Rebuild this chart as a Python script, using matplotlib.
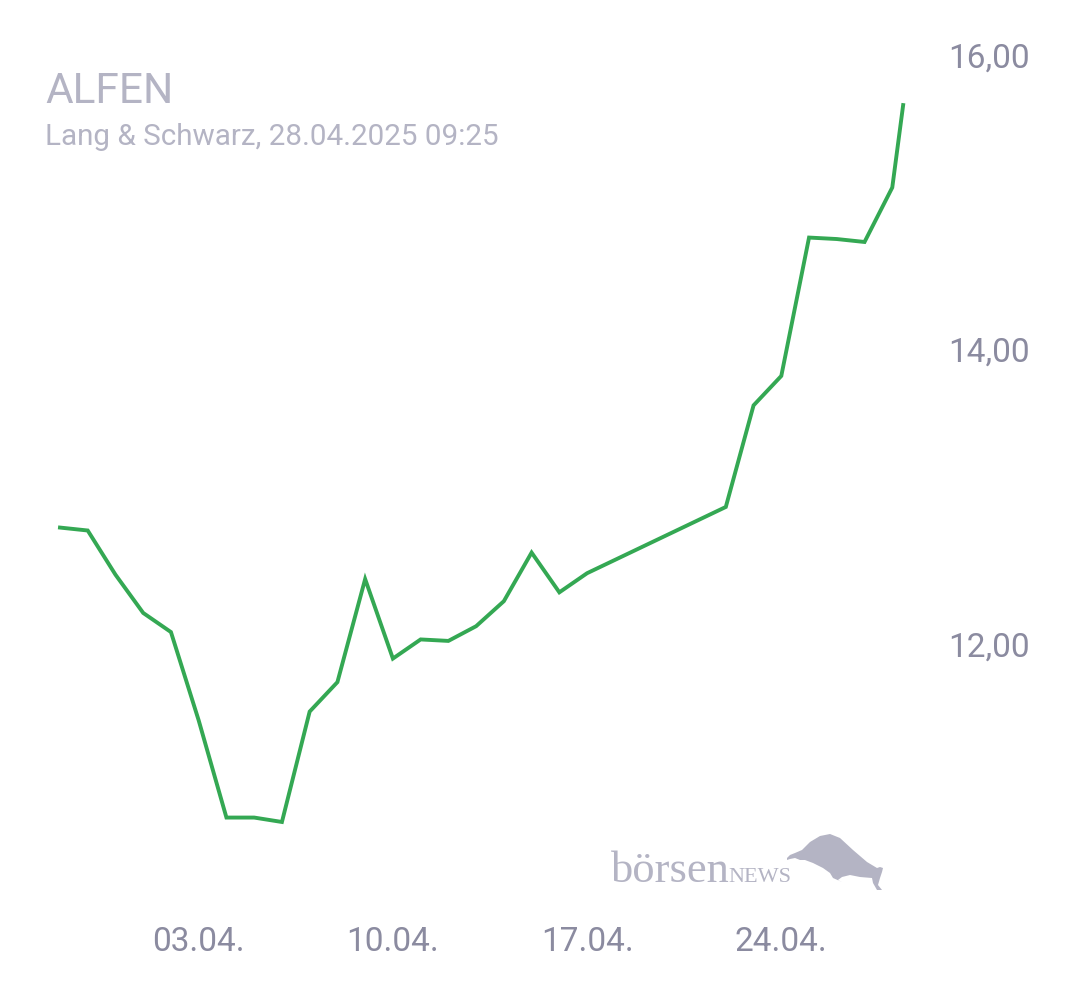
import numpy as np
import matplotlib
matplotlib.use("Agg")
import matplotlib.pyplot as plt
from matplotlib.patches import Polygon

# Day of April (negative = end of March), last point is 28.04. 09:25
days = [-2, -1, 0, 1, 2, 3, 4, 5, 6, 7, 8, 9, 10, 11, 12, 13, 14, 15, 16, 17,
        22, 23, 24, 25, 26, 27, 28, 28 + (9 + 25 / 60) / 24]
prices = [12.79, 12.77, 12.47, 12.21, 12.08, 11.48, 10.82, 10.82, 10.79, 11.54,
          11.74, 12.44, 11.90, 12.03, 12.02, 12.12, 12.29, 12.62, 12.35, 12.48,
          12.93, 13.62, 13.82, 14.76, 14.75, 14.73, 15.10, 15.66]

x_ticks = [3, 10, 17, 24]
x_labels = ["03.04.", "10.04.", "17.04.", "24.04."]
y_ticks = [12, 14, 16]
y_labels = ["12,00", "14,00", "16,00"]

W, H = 1080, 990
line_col = "#34a853"
tick_col = "#8b8ba0"
title_col = "#b4b4c4"

fig = plt.figure(figsize=(W / 100, H / 100), dpi=100)
ax = fig.add_axes([40 / W, 90 / H, 890 / W, 870 / H])

ax.plot(days, prices, color=line_col, lw=2.8, solid_joinstyle="miter")

ax.set_xlim(-2.72, 29.36)
ax.set_ylim(10.26, 16.17)

ax.set_xticks(x_ticks)
ax.set_xticklabels(x_labels)
ax.set_yticks(y_ticks)
ax.set_yticklabels(y_labels)
ax.yaxis.tick_right()
ax.tick_params(axis="both", length=0, colors=tick_col, labelsize=24)
ax.tick_params(axis="x", pad=19)
ax.tick_params(axis="y", pad=13)
for lab in ax.get_xticklabels() + ax.get_yticklabels():
    lab.set_fontfamily("Roboto")
for s in ax.spines.values():
    s.set_visible(False)

# header
fig.text(45 / W, 1 - 103 / H, "ALFEN", fontsize=30.5, color=title_col,
         family="Roboto", va="baseline")
fig.text(45 / W, 1 - 145 / H, "Lang & Schwarz, 28.04.2025 09:25", fontsize=21.3,
         color=title_col, family="Roboto", va="baseline")

# logo
fig.text(611 / W, 1 - 882 / H, "börsen", fontsize=32, color=title_col,
         family="Liberation Serif", va="baseline")
fig.text(728 / W, 1 - 882 / H, "NEWS", fontsize=16, color=title_col,
         family="Liberation Serif", va="baseline")
bull = [(787, 858), (790, 855), (795, 853), (802, 850), (810, 842), (820, 836),
        (830, 834), (840, 838), (853, 850), (867, 862), (877, 868), (880, 867),
        (883, 868), (882, 872), (880, 878), (878, 885), (882, 890), (877, 890),
        (873, 883), (872, 878), (860, 877), (850, 875), (842, 877), (838, 880),
        (842, 882), (833, 878), (830, 873), (823, 868), (813, 863), (805, 860),
        (800, 860), (795, 858), (790, 859), (787, 860)]
poly = Polygon([(px / W, 1 - py / H) for px, py in bull], closed=True,
               transform=fig.transFigure, facecolor=title_col, edgecolor="none")
fig.patches.append(poly)

fig.savefig("out.png", dpi=100, facecolor="white")
